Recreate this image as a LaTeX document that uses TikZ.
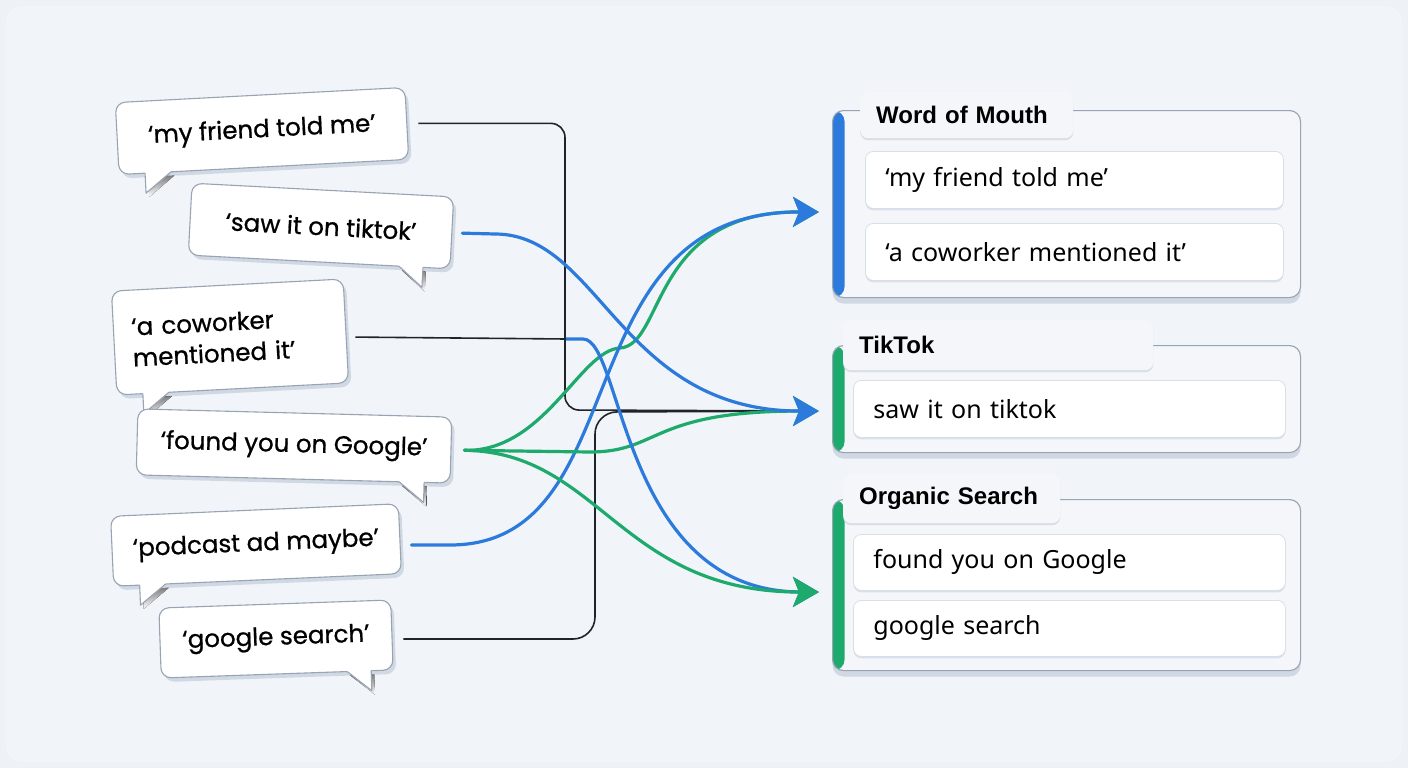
\documentclass[tikz,border=0pt]{standalone}
\usepackage{fontspec}
\setmainfont{Noto Sans}
\newfontfamily\handfont{Poppins}[FakeBold=0.8]
\newfontfamily\titlefont{Liberation Sans}
\usepackage{xcolor}
\usetikzlibrary{positioning,arrows.meta,calc,shadows}
\definecolor{pagebg}{HTML}{EEF2F7}
\definecolor{cardbg}{HTML}{F4F6FA}
\definecolor{edgegray}{HTML}{98A3B3}
\definecolor{softedge}{HTML}{D9DFE7}
\definecolor{shade}{HTML}{D0D8E3}
\definecolor{flowblue}{HTML}{2C7BDC}
\definecolor{flowgreen}{HTML}{1EAA6C}
\definecolor{inkline}{HTML}{20242A}
\tikzset{
  bubble/.style={draw=edgegray,fill=white,line width=1.1pt,rounded corners=10pt,
    drop shadow={shadow xshift=3pt,shadow yshift=-4pt,fill=shade,opacity=1}},
  saying/.style={font=\handfont\fontsize{24.5}{31}\selectfont,align=left},
  group/.style={draw=edgegray,fill=cardbg,rounded corners=11pt,line width=1.1pt,
    anchor=north west,inner sep=0pt,minimum width=468pt,
    drop shadow={shadow xshift=0pt,shadow yshift=-6pt,fill=shade,opacity=1}},
  accent/.style={path picture={\fill[#1] (path picture bounding box.north west)
    rectangle ([xshift=12pt]path picture bounding box.south west);}},
  tab/.style={fill=cardbg,rounded corners=8pt,anchor=north west,inner xsep=16pt,
    align=left,font=\titlefont\bfseries\fontsize{24}{28}\selectfont,
    drop shadow={shadow xshift=0pt,shadow yshift=-2pt,fill=shade,opacity=0.8}},
  entry/.style={draw=softedge,fill=white,rounded corners=8pt,line width=0.8pt,
    anchor=north west,inner xsep=20pt,align=left,font=\fontsize{25}{30}\selectfont,
    drop shadow={shadow xshift=0pt,shadow yshift=-2pt,fill=shade,opacity=0.7}},
  flow/.style={line width=3.2pt,line cap=round},
  plain/.style={draw=inkline,line width=1.6pt,rounded corners=14pt},
  tip/.style={-{Stealth[length=26pt,width=30pt,inset=6pt]}},
}
\newcommand{\bubbletail}[3]{%
  \fill[shade,shift={(3,4)}] (#1,#3) -- (#1,#3+20) -- (#2,#3) -- cycle;
  \fill[white] (#1,#3-3) -- (#1,#3+20) -- (#2,#3) -- (#2,#3-3) -- cycle;
  \draw[edgegray,line width=1.1pt,line join=round] (#2,#3) -- (#1,#3+20) -- (#1,#3);
}

\begin{document}
\begin{tikzpicture}[x=1pt,y=-1pt]
\useasboundingbox (0,0) rectangle (1408,768);
\fill[pagebg] (0,0) rectangle (1408,768);
\fill[pagebg!80!white,rounded corners=16pt] (6,6) rectangle (1402,762);

% quotes on the left
\begin{scope}[shift={(262,131)},rotate=3,transform shape]
\node[bubble,saying,minimum width=290pt,minimum height=72pt] (q1) {‘my friend told me’};
\bubbletail{-119}{-93}{36}
\end{scope}
\begin{scope}[shift={(321,226)},rotate=-3,transform shape]
\node[bubble,saying,minimum width=262pt,minimum height=72pt] (q2) {‘saw it on tiktok’};
\bubbletail{104}{80}{36}
\end{scope}
\begin{scope}[shift={(230,337)},rotate=3,transform shape]
\node[bubble,saying,minimum width=232pt,minimum height=104pt,text width=196pt] (q3) {‘a coworker\\ mentioned it’};
\bubbletail{-90}{-64}{52}
\end{scope}
\begin{scope}[shift={(294,446)},rotate=-1.5,transform shape]
\node[bubble,saying,minimum width=314pt,minimum height=66pt] (q4) {‘found you on Google’};
\bubbletail{131}{106}{33}
\end{scope}
\begin{scope}[shift={(256,545)},rotate=2.5,transform shape]
\node[bubble,saying,minimum width=288pt,minimum height=70pt] (q5) {‘podcast ad maybe’};
\bubbletail{-118}{-92}{35}
\end{scope}
\begin{scope}[shift={(276,639)},rotate=2,transform shape]
\node[bubble,saying,minimum width=232pt,minimum height=70pt] (q6) {‘google search’};
\bubbletail{94}{70}{35}
\end{scope}

% channel groups
\node[group,accent=flowblue,minimum height=187pt] (wom) at (832,110) {};
\node[tab,minimum width=213pt,minimum height=46pt,text width=181pt] (womtab) at (860,92) {Word of Mouth};
\node[entry,minimum width=418pt,minimum height=57pt,text width=378pt] (wom1) at (865,151) {‘my friend told me’};
\node[entry,minimum width=418pt,minimum height=57pt,text width=378pt] (wom2) at (865,223) {‘a coworker mentioned it’};

\node[group,accent=flowgreen,minimum height=107pt] (tt) at (832,345) {};
\node[tab,minimum width=310pt,minimum height=50pt,text width=278pt] (tttab) at (843,320) {TikTok};
\node[entry,minimum width=432pt,minimum height=57pt,text width=392pt] (tt1) at (853,380) {saw it on tiktok};

\node[group,accent=flowgreen,minimum height=171pt] (org) at (832,499) {};
\node[tab,minimum width=217pt,minimum height=49pt,text width=185pt] (orgtab) at (843,474) {Organic Search};
\node[entry,minimum width=432pt,minimum height=56pt,text width=392pt] (org1) at (853,534) {found you on Google};
\node[entry,minimum width=432pt,minimum height=56pt,text width=392pt] (org2) at (853,600) {google search};

\coordinate (wom-in) at ($(wom.west)+(-13,8)$);
\coordinate (tt-in) at ($(tt.west)+(-13,12)$);
\coordinate (org-in) at ($(org.west)+(-13,7)$);
\coordinate (friendbend) at (565,410);
\coordinate (searchbend) at (595,412);
\coordinate (cwjoin) at (566,339);

% mappings
\draw[plain,shorten <=11pt,shorten >=14pt] (q1.east) -| (friendbend) -- (tt-in);
\draw[plain,rounded corners=22pt,shorten <=11pt,shorten >=14pt] (q6.east |- q6.center) -| (searchbend) -- (tt-in);

\draw[flow,flowgreen,tip,shorten <=13pt] (q4.east) .. controls (545,452) and (580,350) .. (620,348)
  .. controls (665,345) and (650,211) .. (wom-in);
\draw[flow,flowblue,tip,shorten <=11pt] (q5.east |- q5.center) -- (450,545)
  .. controls (640,545) and (560,211) .. (wom-in);

\draw[flow,flowgreen,tip,shorten <=13pt] (q4.east) -- (590,452) .. controls (660,452) and (650,411) .. (tt-in);
\draw[flow,flowblue,tip,shorten <=10pt] (q2.east) -- (495,234) .. controls (600,234) and (620,411) .. (tt-in);

\draw[flow,flowblue,tip] (cwjoin) -- (583,339) .. controls (623,339) and (621,591) .. (org-in);
\draw[plain,shorten <=9pt] (q3.east |- q3.center) -- (cwjoin);
\draw[flow,flowgreen,tip,shorten <=13pt] (q4.east) .. controls (600,452) and (620,592) .. (org-in);
\end{tikzpicture}
\end{document}
